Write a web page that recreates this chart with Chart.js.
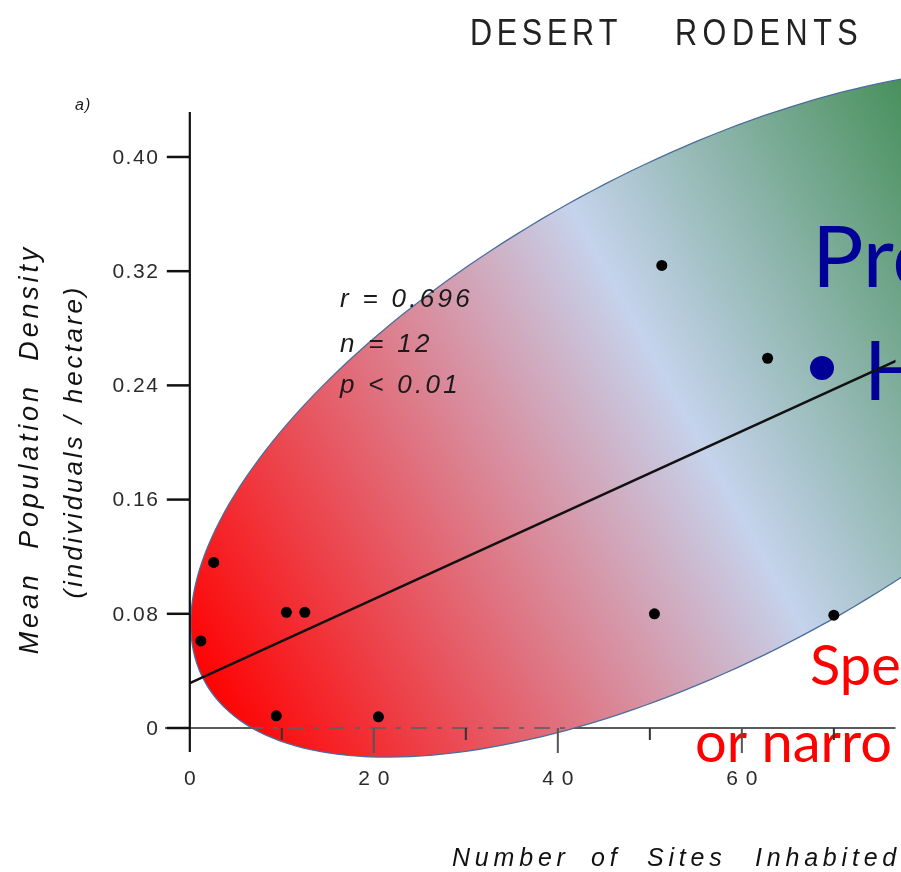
<!DOCTYPE html>
<html>
<head>
<meta charset="utf-8">
<script src="https://cdn.jsdelivr.net/npm/chart.js@4.4.1/dist/chart.umd.min.js"></script>
<style>
  html, body { margin: 0; padding: 0; background: #ffffff; overflow: hidden; }
  #wrap { width: 901px; height: 872px; position: relative; }
  canvas { display: block; }
</style>
</head>
<body>
<div id="wrap"><canvas id="c" width="901" height="872"></canvas></div>
<script>
// Desert rodents: number of sites inhabited vs mean population density
const sitesInhabited = [1.2, 2.6, 10.5, 12.5, 9.4, 20.5, 50.5, 51.3, 62.8, 70.0];
const meanDensity    = [0.061, 0.116, 0.081, 0.081, 0.0085, 0.0078, 0.080, 0.324, 0.259, 0.079];

// least-squares line end points
const fitX = [0, 78];
const fitY = [0.0315, 0.2608];

const yTickValues = [0, 0.08, 0.16, 0.24, 0.32, 0.40];
const yTickLabels = ['0', '0.08', '0.16', '0.24', '0.32', '0.40'];
const xMajorTicks = [0, 20, 40, 60];
const xMajorLabels = ['0', '20', '40', '60'];
const xMinorTicks = [10, 30, 50, 70];
const statsLines = ['r = 0.696', 'n = 12', 'p < 0.01'];

// draws text character by character with extra tracking
function spacedText(ctx, text, x, y, spacing, align) {
  const chars = [...text];
  const widths = chars.map(c => ctx.measureText(c).width);
  const total = widths.reduce((a, b) => a + b, 0) + spacing * (chars.length - 1);
  let pos = align === 'center' ? x - total / 2 : align === 'right' ? x - total : x;
  ctx.textAlign = 'left';
  chars.forEach((c, i) => { ctx.fillText(c, pos, y); pos += widths[i] + spacing; });
  return total;
}

// tilted oval highlighting the spread of species
function ovalPath(cx, cy, rx, ry, shear) {
  const p = new Path2D();
  const n = 240;
  for (let i = 0; i <= n; i++) {
    const t = (i / n) * Math.PI * 2;
    const X = rx * Math.cos(t);
    const Y = ry * Math.sin(t) - shear * X;
    if (i === 0) p.moveTo(cx + X, cy + Y); else p.lineTo(cx + X, cy + Y);
  }
  p.closePath();
  return p;
}

const rodentPlot = {
  id: 'rodentPlot',
  beforeDatasetsDraw(chart) {
    const { ctx, scales: { x, y } } = chart;
    const W = chart.width, H = chart.height;
    const cx = x.getPixelForValue(55.2), cy = y.getPixelForValue(0.2207);
    const oval = ovalPath(cx, cy, 507, 272, 0.416);

    ctx.save();
    const gx = 0.876, gy = -0.482;
    const grad = ctx.createLinearGradient(cx - 569 * gx, cy - 569 * gy, cx + 335 * gx, cy + 335 * gy);
    grad.addColorStop(0, '#ff0000');
    grad.addColorStop(0.617, '#c5d3ec');
    grad.addColorStop(1, '#4a915e');
    ctx.fillStyle = grad;
    ctx.fill(oval);
    ctx.lineWidth = 1.3;
    ctx.strokeStyle = '#4a6e9c';
    ctx.stroke(oval);
    ctx.restore();

    // slide text
    ctx.save();
    ctx.textBaseline = 'alphabetic';
    ctx.fillStyle = '#000099';
    ctx.font = '86px Lato, "Open Sans", sans-serif';
    ctx.textAlign = 'left';
    ctx.fillText('Pro', 812, 287);
    ctx.beginPath();
    ctx.arc(822, 368, 12, 0, Math.PI * 2);
    ctx.fill();
    ctx.font = '81px Lato, "Open Sans", sans-serif';
    ctx.fillText('H', 864, 400);
    ctx.fillStyle = '#ff0000';
    ctx.font = '56px Lato, "Open Sans", sans-serif';
    ctx.fillText('Spe', 810, 685);
    ctx.fillText('or narro', 695, 762);
    ctx.restore();

    // axes
    const x0 = x.getPixelForValue(0), y0 = y.getPixelForValue(0);
    ctx.save();
    // x axis: solid outside the oval, broken inside it
    const outside = new Path2D();
    outside.rect(0, 0, W, H);
    outside.addPath(oval);
    ctx.save();
    ctx.clip(outside, 'evenodd');
    ctx.strokeStyle = '#5a5a5a';
    ctx.lineWidth = 2.2;
    ctx.beginPath();
    ctx.moveTo(x.left, y0); ctx.lineTo(x.right, y0);
    ctx.stroke();
    ctx.restore();
    ctx.save();
    ctx.clip(oval);
    ctx.strokeStyle = 'rgba(95,95,95,0.85)';
    ctx.lineWidth = 2;
    ctx.setLineDash([16, 10, 5, 10]);
    ctx.beginPath();
    ctx.moveTo(x.left, y0); ctx.lineTo(x.right, y0);
    ctx.stroke();
    ctx.restore();

    ctx.strokeStyle = '#555555';
    ctx.lineWidth = 2;
    xMajorTicks.forEach(v => {
      if (v === 0) return;
      const px = x.getPixelForValue(v);
      ctx.beginPath(); ctx.moveTo(px, y0); ctx.lineTo(px, y0 + 25); ctx.stroke();
    });
    ctx.strokeStyle = '#333333';
    xMinorTicks.forEach(v => {
      const px = x.getPixelForValue(v);
      ctx.beginPath(); ctx.moveTo(px, y0); ctx.lineTo(px, y0 + 12); ctx.stroke();
    });

    // y axis
    ctx.strokeStyle = '#111111';
    ctx.lineWidth = 2.2;
    ctx.beginPath();
    ctx.moveTo(x0, y.getPixelForValue(0.4315));
    ctx.lineTo(x0, y.bottom);
    ctx.stroke();
    ctx.lineWidth = 2.5;
    yTickValues.forEach(v => {
      const py = y.getPixelForValue(v);
      ctx.beginPath(); ctx.moveTo(x0 - 23, py); ctx.lineTo(x0, py); ctx.stroke();
    });
    ctx.restore();
  },
  afterDatasetsDraw(chart) {
    const { ctx, scales: { x, y } } = chart;
    const x0 = x.getPixelForValue(0), y0 = y.getPixelForValue(0);
    ctx.save();
    ctx.fillStyle = '#2b2b2b';

    // y tick labels
    ctx.font = '21px "Liberation Sans", Arial, sans-serif';
    ctx.textBaseline = 'middle';
    yTickValues.forEach((v, i) => {
      spacedText(ctx, yTickLabels[i], x0 - 32, y.getPixelForValue(v) + 1, 1.5, 'right');
    });

    // x tick labels
    ctx.font = '21px "Liberation Sans", Arial, sans-serif';
    xMajorTicks.forEach((v, i) => {
      spacedText(ctx, xMajorLabels[i], x.getPixelForValue(v), y0 + 51, 8, 'center');
    });

    // regression statistics
    ctx.fillStyle = '#1a1a1a';
    ctx.textBaseline = 'alphabetic';
    ctx.font = 'italic 26px "Liberation Sans", Arial, sans-serif';
    const statBase = [307, 352, 393];
    statsLines.forEach((s, i) => spacedText(ctx, s, 340, statBase[i], 3.3, 'left'));

    // panel letter
    ctx.font = 'italic 16px "Liberation Sans", Arial, sans-serif';
    spacedText(ctx, 'a)', 75, 110, 1, 'left');

    // title
    ctx.fillStyle = '#222222';
    ctx.font = '36px "Liberation Sans", Arial, sans-serif';
    ctx.save();
    ctx.translate(470, 45);
    ctx.scale(0.85, 1);
    spacedText(ctx, 'DESERT', 0, 0, 5.5, 'left');
    ctx.restore();
    ctx.save();
    ctx.translate(675, 45);
    ctx.scale(0.85, 1);
    spacedText(ctx, 'RODENTS', 0, 0, 6.5, 'left');
    ctx.restore();

    // y axis title
    ctx.fillStyle = '#111111';
    ctx.save();
    ctx.translate(38, 451);
    ctx.rotate(-Math.PI / 2);
    ctx.font = 'italic 27px "Liberation Sans", Arial, sans-serif';
    spacedText(ctx, 'Mean  Population  Density', 0, 0, 3.8, 'center');
    ctx.restore();
    ctx.save();
    ctx.translate(82, 443);
    ctx.rotate(-Math.PI / 2);
    ctx.font = 'italic 26px "Liberation Sans", Arial, sans-serif';
    spacedText(ctx, '(individuals / hectare)', 0, 0, 2.9, 'center');
    ctx.restore();

    // x axis title
    ctx.font = 'italic 25px "Liberation Sans", Arial, sans-serif';
    const words = [['Number', 452], ['of', 591], ['Sites', 647], ['Inhabited', 755]];
    words.forEach(([w, px]) => spacedText(ctx, w, px, 866, 4.8, 'left'));
    ctx.restore();
  }
};

new Chart(document.getElementById('c'), {
  type: 'scatter',
  data: {
    datasets: [
      {
        label: 'Species',
        data: sitesInhabited.map((v, i) => ({ x: v, y: meanDensity[i] })),
        backgroundColor: '#000000',
        borderColor: '#000000',
        pointRadius: 5.5,
        pointBorderWidth: 0,
        showLine: false
      },
      {
        label: 'Fit',
        data: fitX.map((v, i) => ({ x: v, y: fitY[i] })),
        showLine: true,
        borderColor: '#111111',
        borderWidth: 2.4,
        pointRadius: 0,
        fill: false
      }
    ]
  },
  options: {
    responsive: false,
    animation: false,
    devicePixelRatio: 1,
    layout: { padding: { left: 165, right: 0, top: 110, bottom: 120 } },
    plugins: { legend: { display: false }, tooltip: { enabled: false } },
    scales: {
      x: { type: 'linear', min: -2.697, max: 76.70, display: false },
      y: { type: 'linear', min: -0.01681, max: 0.4329, display: false }
    }
  },
  plugins: [rodentPlot]
});
</script>
</body>
</html>
